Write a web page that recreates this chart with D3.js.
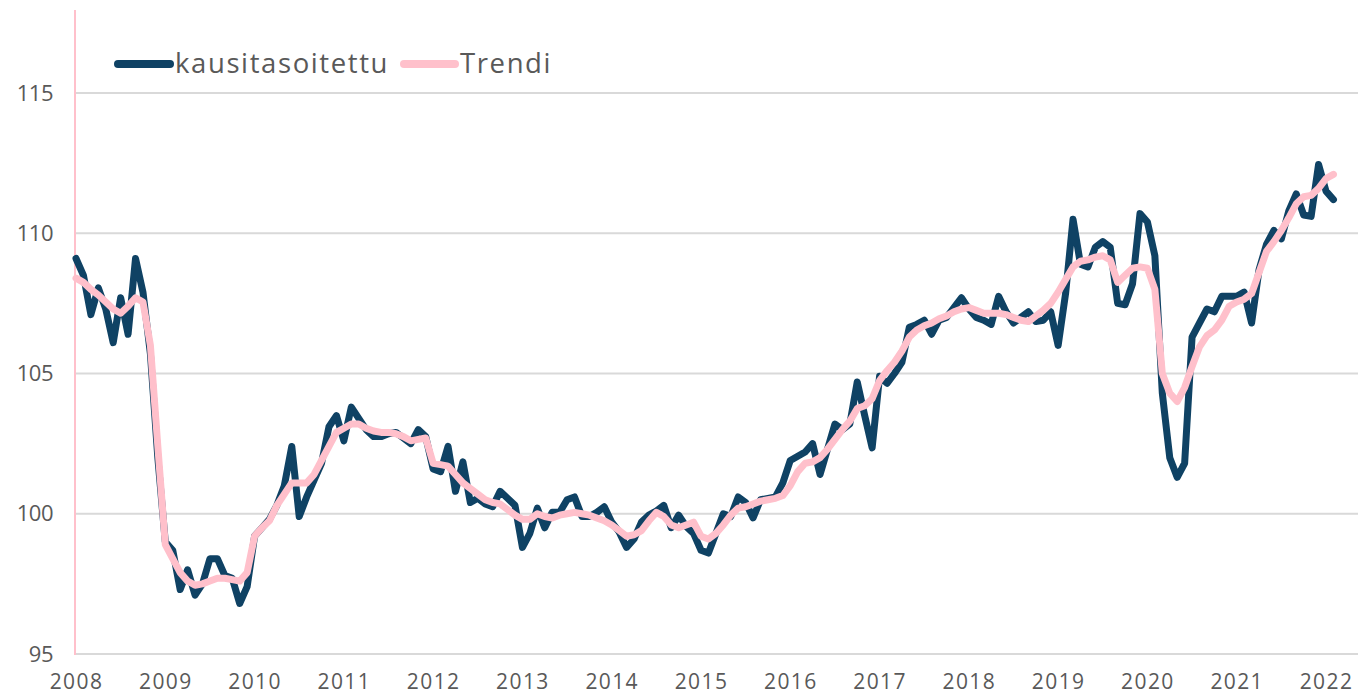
<!DOCTYPE html>
<html><head><meta charset="utf-8">
<script src="https://cdn.jsdelivr.net/npm/d3@7"></script>
<style>
html,body{margin:0;padding:0;background:#fff;}
svg text{font-family:"Open Sans",Roboto,sans-serif;fill:#595959;}
</style></head>
<body><svg id="c" width="1361" height="695"></svg>
<script>
const yearLabels = ["2008","2009","2010","2011","2012","2013","2014","2015","2016","2017","2018","2019","2020","2021","2022"];
const yTicks = [95,100,105,110,115];
const seriesNames = ["kausitasoitettu","Trendi"];
const kausitasoitettu = [
109.1,108.5,107.1,108.05,107.3,106.1,107.7,106.4,109.1,107.9,105.7,102.0,
99.0,98.7,97.3,98.0,97.1,97.5,98.4,98.4,97.8,97.7,96.8,97.4,
99.2,99.5,99.8,100.3,101.0,102.4,99.9,100.6,101.2,101.8,103.1,103.5,
102.6,103.8,103.4,103.0,102.75,102.75,102.85,102.9,102.7,102.5,103.0,102.75,
101.6,101.5,102.4,100.8,101.85,100.4,100.55,100.35,100.25,100.8,100.55,100.3,
98.8,99.3,100.2,99.5,100.05,100.05,100.5,100.6,99.9,99.9,100.05,100.25,
99.7,99.35,98.8,99.1,99.7,99.95,100.1,100.3,99.5,99.95,99.55,99.3,
98.7,98.6,99.3,100.0,99.9,100.6,100.4,99.85,100.5,100.55,100.6,101.1,
101.9,102.05,102.2,102.5,101.4,102.3,103.2,103.0,103.2,104.7,103.5,102.35,
104.9,104.65,105.0,105.4,106.65,106.75,106.9,106.4,106.9,107.0,107.35,107.7,
107.3,107.0,106.9,106.75,107.75,107.2,106.8,107.0,107.2,106.85,106.9,107.2,
106.0,107.85,110.5,108.9,108.8,109.5,109.7,109.5,107.5,107.45,108.2,110.7,
110.4,109.2,104.3,102.0,101.3,101.8,106.3,106.8,107.3,107.2,107.75,107.75,
107.75,107.9,106.8,108.7,109.6,110.1,109.8,110.8,111.4,110.65,110.6,112.45,
111.5,111.2];
const trendi = [
108.4,108.25,108.0,107.8,107.55,107.3,107.15,107.4,107.7,107.55,106.0,102.4,
98.9,98.4,97.9,97.6,97.45,97.5,97.6,97.7,97.7,97.65,97.6,97.9,
99.2,99.5,99.75,100.3,100.7,101.1,101.1,101.1,101.4,101.9,102.4,102.9,
103.05,103.2,103.2,103.05,102.95,102.9,102.9,102.85,102.75,102.6,102.65,102.7,
101.8,101.75,101.7,101.4,101.1,100.9,100.7,100.5,100.4,100.35,100.15,99.95,
99.8,99.8,100.0,99.9,99.85,99.95,100.0,100.05,100.0,99.95,99.85,99.75,
99.6,99.4,99.2,99.25,99.4,99.75,100.05,99.9,99.6,99.5,99.6,99.7,
99.2,99.1,99.3,99.6,99.95,100.2,100.25,100.35,100.45,100.5,100.55,100.65,
101.0,101.5,101.8,101.85,102.0,102.3,102.65,103.0,103.3,103.75,103.85,104.1,
104.75,105.1,105.4,105.8,106.3,106.55,106.7,106.8,106.95,107.05,107.2,107.3,
107.35,107.25,107.15,107.15,107.15,107.1,107.0,106.9,106.85,107.05,107.25,107.5,
107.9,108.35,108.8,109.0,109.05,109.15,109.2,109.05,108.25,108.5,108.75,108.8,
108.75,108.0,105.0,104.3,104.0,104.5,105.25,105.95,106.35,106.55,106.9,107.4,
107.55,107.65,107.85,108.6,109.35,109.7,110.1,110.55,111.05,111.3,111.35,111.6,
111.95,112.1];

const colors = ["#0f4264","#ffc0cb"];
const svg = d3.select("#c");
const pLeft = 75, pRight = 1358, pTop = 10, pBottom = 654;

const x = d3.scaleLinear().domain([0,168]).range([76,1326]);
const y = d3.scaleLinear().domain([95,118]).range([pBottom, pBottom - 23*28.05]);

svg.append("g").selectAll("line").data(yTicks).join("line")
  .attr("x1", pLeft).attr("x2", pRight)
  .attr("y1", d=>y(d)).attr("y2", d=>y(d))
  .attr("stroke","#d9d9d9").attr("stroke-width",2);

svg.append("line").attr("x1",pLeft).attr("x2",pLeft).attr("y1",pTop).attr("y2",pBottom+1)
  .attr("stroke","#ffc0cb").attr("stroke-width",2);

const yAxis = d3.axisLeft(y).tickValues(yTicks).tickSize(0).tickPadding(22);
const gy = svg.append("g").attr("transform",`translate(${pLeft},0)`).call(yAxis);
gy.select(".domain").remove();
gy.selectAll("text").attr("font-size",22).style("font-family",'"Open Sans",sans-serif')
  .style("letter-spacing","-0.5px").attr("fill","#595959");

const xAxis = d3.axisBottom(x).tickValues(yearLabels.map((d,i)=>i*12)).tickSize(0).tickPadding(20)
  .tickFormat((d,i)=>yearLabels[i]);
const gx = svg.append("g").attr("transform",`translate(0,${pBottom})`).call(xAxis);
gx.select(".domain").remove();
gx.selectAll("text").attr("font-size",21).style("font-family",'"Open Sans",sans-serif')
  .style("letter-spacing","1.4px").attr("fill","#595959");

const line = d3.line().x((d,i)=>x(i)).y(d=>y(d));
[kausitasoitettu, trendi].forEach((s,k)=>{
  svg.append("path").datum(s).attr("d",line).attr("fill","none")
    .attr("stroke",colors[k]).attr("stroke-width",7)
    .attr("stroke-linejoin","round").attr("stroke-linecap","round");
});

const leg = [{x1:118,x2:170,tx:175},{x1:404,x2:455,tx:460}];
seriesNames.forEach((n,k)=>{
  svg.append("line").attr("x1",leg[k].x1).attr("x2",leg[k].x2).attr("y1",64).attr("y2",64)
    .attr("stroke",colors[k]).attr("stroke-width",8).attr("stroke-linecap","round");
  svg.append("text").attr("x",leg[k].tx).attr("y",72.5).attr("font-size",27.5)
    .style("letter-spacing","1.6px").text(n);
});
</script></body></html>
